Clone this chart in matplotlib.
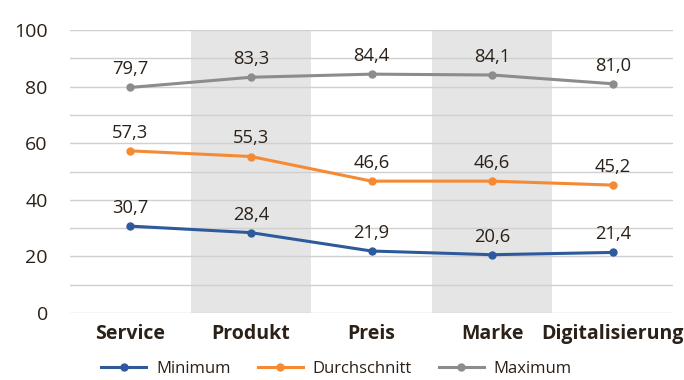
import matplotlib
matplotlib.use("Agg")
import matplotlib.pyplot as plt

categories = ["Service", "Produkt", "Preis", "Marke", "Digitalisierung"]
minimum = [30.7, 28.4, 21.9, 20.6, 21.4]
durchschnitt = [57.3, 55.3, 46.6, 46.6, 45.2]
maximum = [79.7, 83.3, 84.4, 84.1, 81.0]
shaded = ["Produkt", "Marke"]

plt.rcParams['font.family'] = ['Open Sans', 'DejaVu Sans']
txt = "#2b2118"

fig = plt.figure(figsize=(6.84, 3.8), dpi=100)
ax = fig.add_axes([70/684, 1-313/380, 603/684, 283/380])

x = list(range(len(categories)))
for i, c in enumerate(categories):
    if c in shaded:
        ax.axvspan(i-0.5, i+0.5, color="#e5e5e5", zorder=0, lw=0)

for yv in range(0, 101, 10):
    ax.axhline(yv, color="#d0d0d0", lw=1, zorder=1)

series = [("Minimum", minimum, "#2e5a9c"),
          ("Durchschnitt", durchschnitt, "#f58a33"),
          ("Maximum", maximum, "#8c8c8c")]
for name, vals, col in series:
    ax.plot(x, vals, color=col, lw=2.2, marker="o", ms=5, label=name, zorder=3)
    for xi, v in zip(x, vals):
        ax.annotate(f"{v:.1f}".replace(".", ","), (xi, v), xytext=(0, 6.5),
                    textcoords="offset points", ha="center", va="bottom",
                    fontsize=13.2, color=txt)

ax.set_xlim(-0.5, len(categories)-0.5)
ax.set_ylim(0, 100)
ax.set_yticks(range(0, 101, 20))
ax.set_xticks(x)
ax.set_xticklabels(categories, fontweight="bold", fontsize=14, color=txt)
ax.tick_params(axis="y", labelsize=14, labelcolor=txt, length=0, pad=16)
ax.tick_params(axis="x", length=0, pad=8)
for s in ax.spines.values():
    s.set_visible(False)

fig.legend(loc="center", bbox_to_anchor=(0.492, 1-369/380), ncol=3, frameon=False,
           fontsize=12, labelcolor=txt, columnspacing=1.6, handlelength=2.7,
           handletextpad=0.6)

fig.savefig("out.png", dpi=100)
